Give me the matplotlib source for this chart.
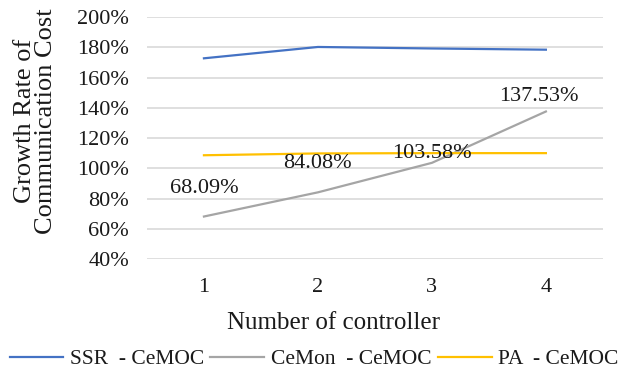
import matplotlib.pyplot as plt
from matplotlib.ticker import PercentFormatter

plt.rcParams['font.family'] = ['Liberation Serif', 'DejaVu Serif']

controllers = ['1', '2', '3', '4']
ssr = [172.7, 180.2, 179.2, 178.4]
cemon = [68.09, 84.08, 103.58, 137.53]
pa = [108.6, 109.8, 110.0, 110.0]
series_names = ['SSR  - CeMOC', 'CeMon  - CeMOC', 'PA  - CeMOC']

# label offsets in points (dx, dy) above each CeMon value
label_offsets = [(0, 20), (0, 21), (0, 6.5), (-5, 11)]

fig = plt.figure(figsize=(6.28, 3.70), dpi=100)
ax = fig.add_axes([0.234, 0.30, 0.726, 0.654])

x = range(len(controllers))
ax.plot(x, ssr, color='#4472C4', lw=1.6, label=series_names[0])
ax.plot(x, cemon, color='#A5A5A5', lw=1.6, label=series_names[1])
ax.plot(x, pa, color='#FFC000', lw=1.6, label=series_names[2])

for i, v in enumerate(cemon):
    ax.annotate(f'{v:.2f}%', (i, v), xytext=label_offsets[i], textcoords='offset points',
                ha='center', va='center', fontsize=16, color='#1a1a1a')

ax.set_xlim(-0.5, 3.5)
ax.set_ylim(40, 200)
ax.set_yticks(range(40, 201, 20))
ax.yaxis.set_major_formatter(PercentFormatter(decimals=0))
ax.set_xticks(list(x))
ax.set_xticklabels(controllers)
ax.grid(axis='y', color='#D9D9D9', lw=1.2)
ax.set_axisbelow(True)
for s in ax.spines.values():
    s.set_visible(False)
ax.tick_params(length=0, labelsize=16, colors='#1a1a1a', pad=14)
ax.tick_params(axis='y', pad=13)

ax.set_xlabel('Number of controller', fontsize=18, color='#1a1a1a')
ax.xaxis.set_label_coords(0.41, -0.22)
ax.set_ylabel('Growth Rate of\nCommunication Cost', fontsize=19, color='#1a1a1a',
              linespacing=0.95)
ax.yaxis.set_label_coords(-0.198, 0.57)

fig.legend(loc='lower center', bbox_to_anchor=(0.5, -0.05), ncol=3, frameon=False,
           fontsize=15.5, handlelength=2.5, handletextpad=0.3, columnspacing=0.3,
           labelcolor='#1a1a1a')

fig.savefig('out.png', dpi=100)
